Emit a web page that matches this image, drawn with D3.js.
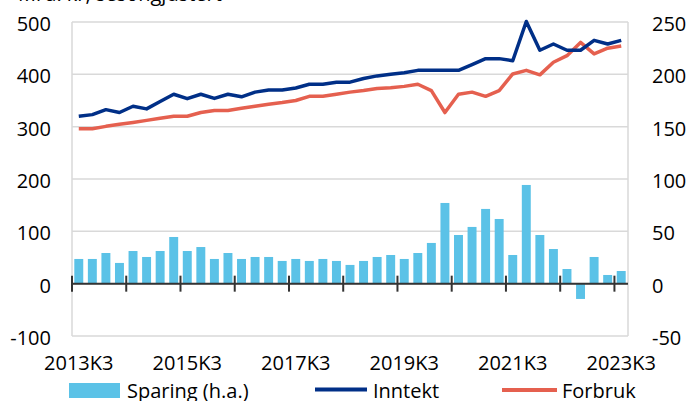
<!DOCTYPE html>
<html>
<head>
<meta charset="utf-8">
<script src="https://cdn.jsdelivr.net/npm/d3@7/dist/d3.min.js"></script>
<style>
  html, body { margin: 0; padding: 0; background: #fff; }
  svg { display: block; font-family: "Open Sans", "Noto Sans", sans-serif; }
</style>
</head>
<body>
<svg id="chart" width="688" height="401"></svg>
<script>
const quarters = ["2013K3","2013K4","2014K1","2014K2","2014K3","2014K4","2015K1","2015K2","2015K3","2015K4",
  "2016K1","2016K2","2016K3","2016K4","2017K1","2017K2","2017K3","2017K4","2018K1","2018K2",
  "2018K3","2018K4","2019K1","2019K2","2019K3","2019K4","2020K1","2020K2","2020K3","2020K4",
  "2021K1","2021K2","2021K3","2021K4","2022K1","2022K2","2022K3","2022K4","2023K1","2023K2","2023K3"];
const sparing = [23.6,23.6,29.3,19.8,31.2,25.5,31.2,44.6,31.2,35,
  23.6,29.3,23.6,25.5,25.5,21.7,23.6,21.7,23.6,21.7,
  17.9,21.7,25.5,27.4,23.6,29.3,38.9,77.1,46.5,54.2,
  71.4,61.8,27.4,94.3,46.5,33.1,14,-14.6,25.5,8.3,12.1];
const inntekt = [319.7,323,332.5,327,339,334,348,362,353.5,362,
  354,362,357,366,370,370,374,381,381,385,
  385,392,397,400,403,407.6,407.6,407.6,407.6,418.5,
  430,430,426,501,446,458,446,446,465,458,465];
const forbruk = [296,296,300.6,304.5,308,312,316,320,320,327,
  331,331,335,339,343,346,350,358,358,362,
  366,369,373,374.5,377,381,369,327,362,366,
  358,369,400.7,407.6,399,423,435.7,461,439,450,454];
const leftTicks = [-100,0,100,200,300,400,500];
const rightTicks = [-50,0,50,100,150,200,250];
const xLabels = ["2013K3","2015K3","2017K3","2019K3","2021K3","2023K3"];
const titleText = "Mrd. kr, sesongjustert";

const COL_BAR = "#5BC2E7", COL_INN = "#002F87", COL_FOR = "#E5604F";
const L = 72, R = 628, T = 22, B = 336;
const svg = d3.select("#chart");

const x = d3.scaleBand().domain(quarters).range([L, R]).paddingInner(0.34).paddingOuter(0.17);
const yL = d3.scaleLinear().domain([-100, 500]).range([B, T]);
const yR = d3.scaleLinear().domain([-50, 250]).range([B, T]);

// title (cut off at top, as in the reference)
svg.append("text").attr("x", 18).attr("y", 0.8).attr("font-size", 20).attr("fill", "#000").text(titleText);

// gridlines
svg.append("g").selectAll("line").data(leftTicks).join("line")
  .attr("x1", L).attr("x2", R).attr("y1", d => yL(d)).attr("y2", d => yL(d))
  .attr("stroke", "#D9D9D9").attr("stroke-width", 1.5);
// frame sides
svg.append("line").attr("x1", L).attr("x2", L).attr("y1", T).attr("y2", B).attr("stroke", "#D9D9D9").attr("stroke-width", 1.5);
svg.append("line").attr("x1", R).attr("x2", R).attr("y1", T).attr("y2", B).attr("stroke", "#D9D9D9").attr("stroke-width", 1.5);

// bars
svg.append("g").selectAll("rect").data(sparing).join("rect")
  .attr("x", (d, i) => x(quarters[i]))
  .attr("width", x.bandwidth())
  .attr("y", d => Math.min(yR(d), yR(0)))
  .attr("height", d => Math.abs(yR(d) - yR(0)))
  .attr("fill", COL_BAR);

// zero axis with ticks every 4 quarters
const zeroY = yL(0);
svg.append("line").attr("x1", L).attr("x2", R).attr("y1", zeroY).attr("y2", zeroY)
  .attr("stroke", "#333").attr("stroke-width", 2);
const tickQ = quarters.filter((q, i) => i % 4 === 0);
svg.append("g").selectAll("line").data(tickQ).join("line")
  .attr("x1", d => x(d) - x.step() * x.paddingInner() / 2)
  .attr("x2", d => x(d) - x.step() * x.paddingInner() / 2)
  .attr("y1", zeroY - 8).attr("y2", zeroY + 8)
  .attr("stroke", "#333").attr("stroke-width", 2);

// lines
const cx = i => x(quarters[i]) + x.bandwidth() / 2;
const lineGen = d3.line().x((d, i) => cx(i)).y(d => yL(d));
svg.append("path").datum(forbruk).attr("d", lineGen).attr("fill", "none")
  .attr("stroke", COL_FOR).attr("stroke-width", 3.5).attr("stroke-linejoin", "round");
svg.append("path").datum(inntekt).attr("d", lineGen).attr("fill", "none")
  .attr("stroke", COL_INN).attr("stroke-width", 3.5).attr("stroke-linejoin", "round");

// y labels
svg.append("g").selectAll("text").data(leftTicks).join("text")
  .attr("x", 51).attr("y", d => yL(d) + 9).attr("text-anchor", "end")
  .attr("font-size", 20).attr("fill", "#000").text(d => d);
svg.append("g").selectAll("text").data(rightTicks).join("text")
  .attr("x", 652).attr("y", d => yR(d) + 9).attr("text-anchor", "start")
  .attr("font-size", 20).attr("fill", "#000").text(d => d);

// x labels
svg.append("g").selectAll("text").data(xLabels).join("text")
  .attr("x", d => x(d) + x.bandwidth() / 2).attr("y", 369.5).attr("text-anchor", "middle")
  .attr("font-size", 20).attr("fill", "#000").text(d => d);

// legend
const lg = svg.append("g");
lg.append("rect").attr("x", 69).attr("y", 383).attr("width", 51).attr("height", 15).attr("fill", COL_BAR);
lg.append("text").attr("x", 127).attr("y", 398).attr("font-size", 20).text("Sparing (h.a.)");
lg.append("line").attr("x1", 315).attr("x2", 367).attr("y1", 389.5).attr("y2", 389.5).attr("stroke", COL_INN).attr("stroke-width", 4);
lg.append("text").attr("x", 373).attr("y", 398).attr("font-size", 20).text("Inntekt");
lg.append("line").attr("x1", 502).attr("x2", 557).attr("y1", 390).attr("y2", 390).attr("stroke", COL_FOR).attr("stroke-width", 4);
lg.append("text").attr("x", 562).attr("y", 398).attr("font-size", 20).text("Forbruk");
</script>
</body>
</html>
